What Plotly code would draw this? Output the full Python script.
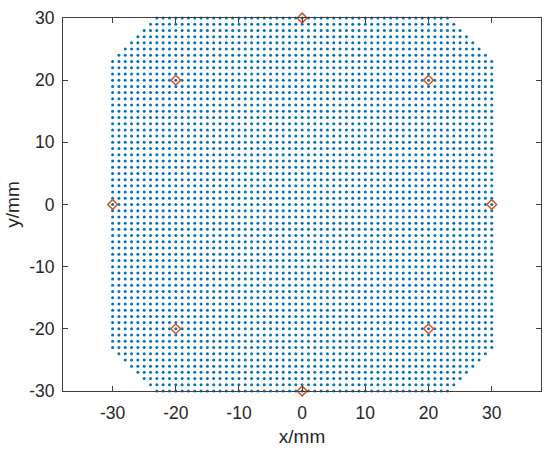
import numpy as np
import plotly.graph_objects as go

# Sampling grid (mm): square grid with cut corners
grid_min = -30
grid_max = 30
grid_step = 1
corner_limit = 53  # |x| + |y| <= corner_limit

# Marker (reference) positions in mm
marker_x = [0, -20, 20, -30, 30, -20, 20, 0]
marker_y = [30, 20, 20, 0, 0, -20, -20, -30]

tick_vals = [-30, -20, -10, 0, 10, 20, 30]
tick_text = ["-30", "-20", "-10", "0", "10", "20", "30"]

coords = np.arange(grid_min, grid_max + grid_step, grid_step)
gx, gy = np.meshgrid(coords, coords)
mask = (np.abs(gx) + np.abs(gy)) <= corner_limit
dot_x = gx[mask]
dot_y = gy[mask]

fig = go.Figure()
fig.add_trace(go.Scatter(
    x=dot_x, y=dot_y, mode="markers",
    marker=dict(size=3, color="#0072BD", line=dict(width=0)),
    cliponaxis=False, hoverinfo="skip", showlegend=False,
))
fig.add_trace(go.Scatter(
    x=marker_x, y=marker_y, mode="markers",
    marker=dict(symbol="diamond-open", size=7.5, color="#D95319",
                line=dict(width=1.5, color="#D95319")),
    cliponaxis=False, showlegend=False,
))

font_family = "Liberation Sans, Arial"
axis_common = dict(
    showline=True, linecolor="#404040", linewidth=1, mirror="ticks",
    ticks="inside", ticklen=5, tickwidth=1, tickcolor="#404040",
    showgrid=False, zeroline=False,
    tickfont=dict(family=font_family, size=17.5, color="#262626"),
    tickvals=tick_vals, ticktext=tick_text,
)

fig.update_layout(
    width=550, height=451,
    margin=dict(l=63, r=8, t=14, b=59),
    paper_bgcolor="white", plot_bgcolor="white",
    xaxis=dict(range=[-37.85, 37.8], **axis_common, ticklabelstandoff=6,
               title=dict(text="x/mm", standoff=7,
                          font=dict(family=font_family, size=19, color="#262626"))),
    yaxis=dict(range=[-30, 30], **axis_common, ticklabelstandoff=4,
               title=dict(text="y/mm", standoff=4,
                          font=dict(family=font_family, size=19, color="#262626"))),
)

fig.write_html("out.html", config={"displayModeBar": False},
               post_script="document.body.style.margin='0';")
